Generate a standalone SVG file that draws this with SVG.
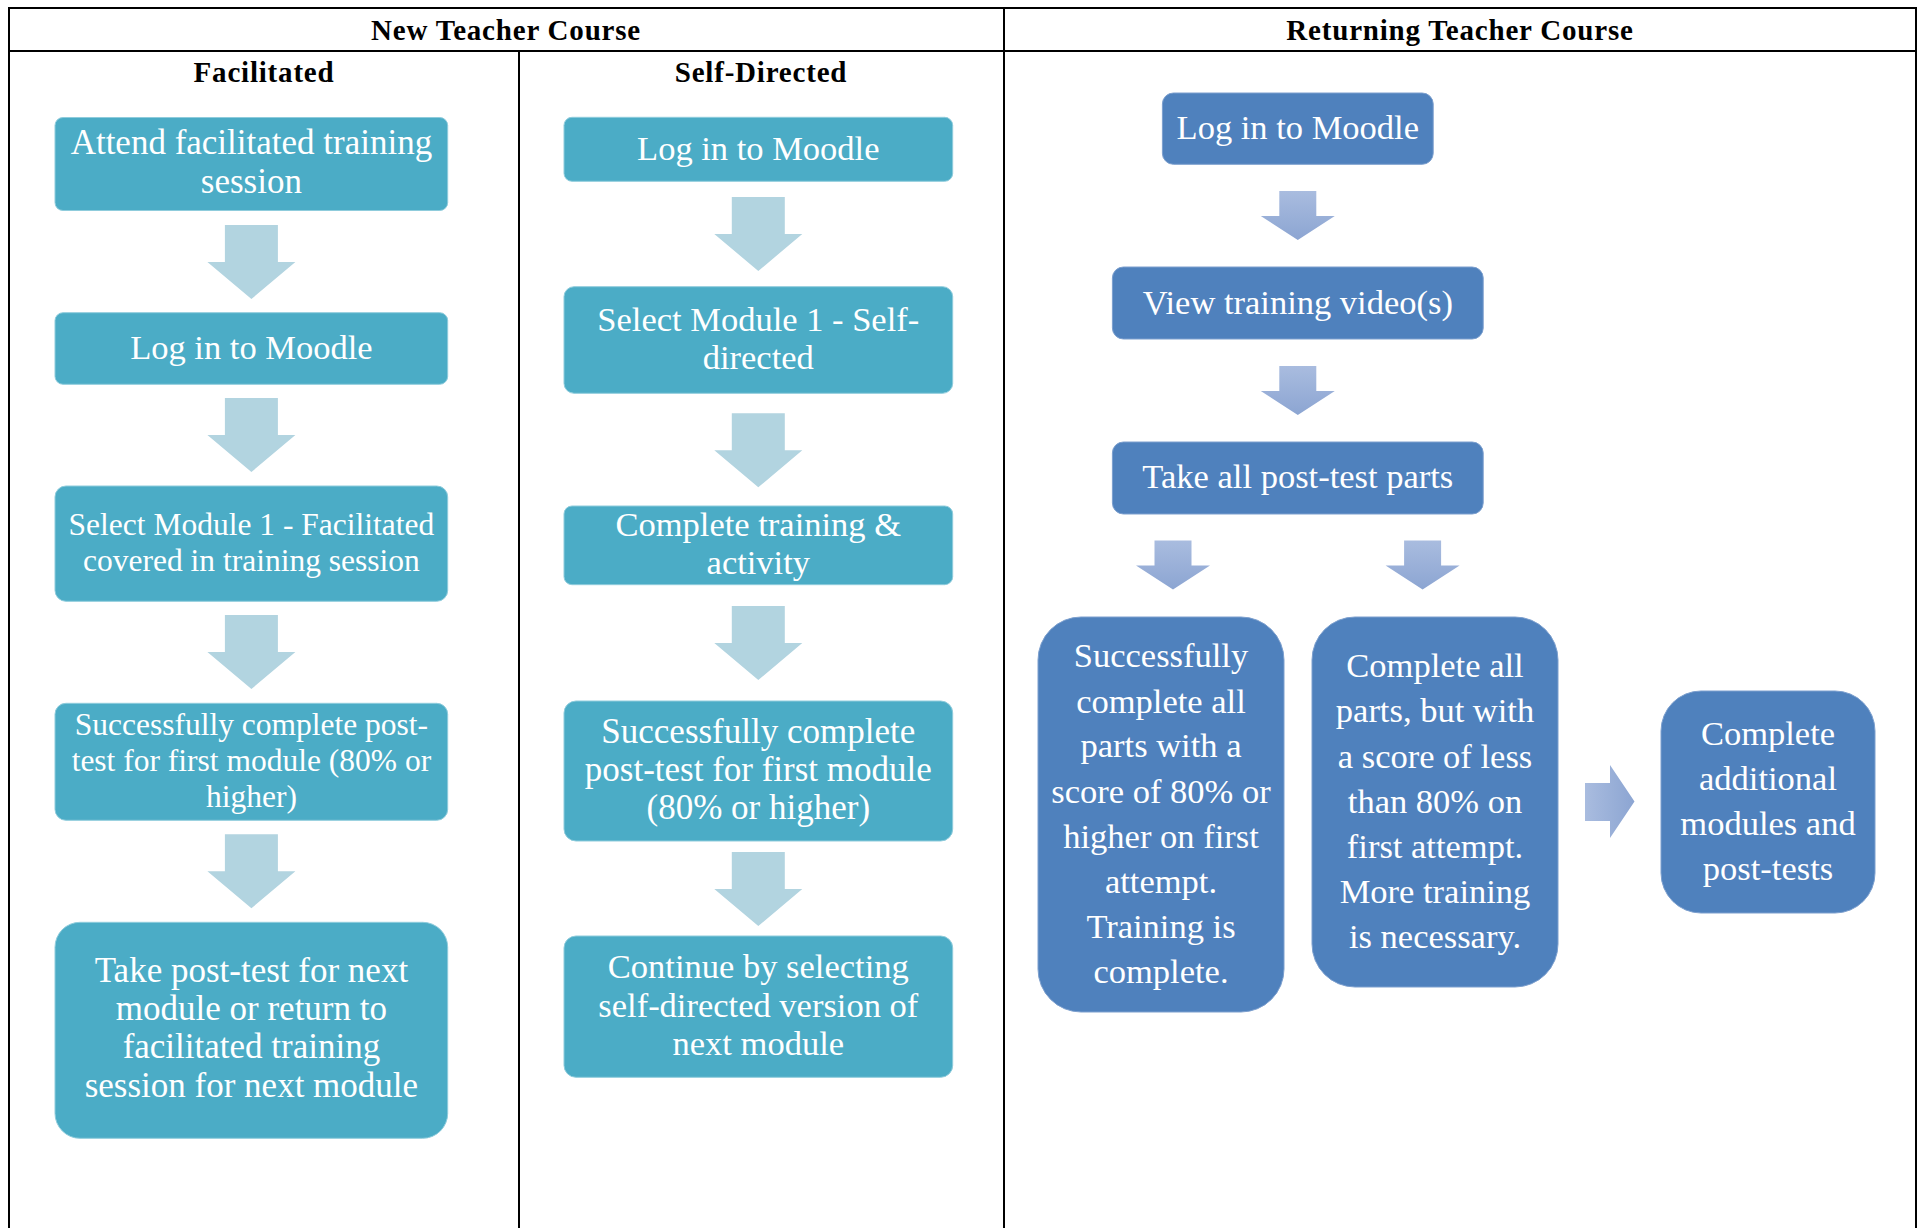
<svg xmlns="http://www.w3.org/2000/svg" xmlns:xlink="http://www.w3.org/1999/xlink" width="1923" height="1228" viewBox="0 0 1923 1228">
  <style>
    .grid { stroke: #000; stroke-width: 2; fill: none; }
    .hdr { font-family: "Liberation Serif", "Times New Roman", serif; font-weight: bold; font-size: 29px; letter-spacing: 0.8px; fill: #000; text-anchor: middle; }
    .teal { fill: #4BACC6; stroke: #8FCCDC; stroke-width: 1; }
    .blue { fill: #4F81BD; stroke: #7C9FCE; stroke-width: 1; }
    .lbl { font-family: "Liberation Serif", "Times New Roman", serif; fill: #fff; text-anchor: middle; font-size: 34.5px; }
    .sm { font-size: 31.5px; }
    .lg { font-size: 35px; }
    .tarrow { fill: #B2D4E0; }
  </style>
  <defs>
    <linearGradient id="gradDown" x1="0" y1="0" x2="0" y2="1">
      <stop offset="0" stop-color="#A9BCDF"/>
      <stop offset="1" stop-color="#8CA5D2"/>
    </linearGradient>
    <linearGradient id="gradRight" x1="0" y1="0" x2="1" y2="0">
      <stop offset="0" stop-color="#A9BCDF"/>
      <stop offset="1" stop-color="#8CA5D2"/>
    </linearGradient>
    <!-- block arrow pointing down, origin at top centre of the shaft -->
    <path id="downArrowLarge" d="M-26.5,0 H26.5 V37 H44 L0,74 L-44,37 H-26.5 Z"/>
    <path id="downArrowSmall" d="M-18.5,0 H18.5 V25 H37 L0,49 L-37,25 H-18.5 Z"/>
  </defs>

  <rect width="1923" height="1228" fill="#fff"/>

  <!-- table frame -->
  <g id="table">
    <line class="grid" x1="8" y1="8" x2="1917" y2="8"/>
    <line class="grid" x1="8" y1="51" x2="1917" y2="51"/>
    <line class="grid" x1="9" y1="7" x2="9" y2="1228"/>
    <line class="grid" x1="519" y1="51" x2="519" y2="1228"/>
    <line class="grid" x1="1004" y1="7" x2="1004" y2="1228"/>
    <line class="grid" x1="1916" y1="7" x2="1916" y2="1228"/>
    <text class="hdr" x="506" y="39.5">New Teacher Course</text>
    <text class="hdr" x="1460" y="39.5">Returning Teacher Course</text>
    <text class="hdr" x="264" y="82">Facilitated</text>
    <text class="hdr" x="761" y="82">Self-Directed</text>
  </g>

  <!-- connectors -->
  <g id="connectors">
    <g class="tarrow">
      <use xlink:href="#downArrowLarge" x="251.4" y="225"/>
      <use xlink:href="#downArrowLarge" x="251.4" y="398"/>
      <use xlink:href="#downArrowLarge" x="251.4" y="615"/>
      <use xlink:href="#downArrowLarge" x="251.4" y="834.3"/>
      <use xlink:href="#downArrowLarge" x="758.3" y="197"/>
      <use xlink:href="#downArrowLarge" x="758.3" y="413.3"/>
      <use xlink:href="#downArrowLarge" x="758.3" y="606"/>
      <use xlink:href="#downArrowLarge" x="758.3" y="852"/>
    </g>
    <g fill="url(#gradDown)">
      <use xlink:href="#downArrowSmall" x="1297.8" y="191"/>
      <use xlink:href="#downArrowSmall" x="1297.8" y="366"/>
      <use xlink:href="#downArrowSmall" x="1173" y="540.5"/>
      <use xlink:href="#downArrowSmall" x="1422.6" y="540.5"/>
    </g>
    <path fill="url(#gradRight)" d="M1585,783 H1610 V765 L1634.5,801.5 L1610,838 V821 H1585 Z"/>
  </g>

  <!-- Facilitated column -->
  <g id="fac-attend">
    <rect class="teal" x="55" y="117.5" width="392.7" height="93" rx="8"/>
    <text class="lbl lg" x="251.4" y="154">Attend facilitated training</text>
    <text class="lbl lg" x="251.4" y="193.3">session</text>
  </g>
  <g id="fac-login">
    <rect class="teal" x="55" y="312.7" width="392.7" height="71.6" rx="8"/>
    <text class="lbl" x="251.4" y="359.3">Log in to Moodle</text>
  </g>
  <g id="fac-select">
    <rect class="teal" x="55" y="486" width="392.7" height="115.3" rx="11"/>
    <text class="lbl sm" x="251.4" y="535">Select Module 1 - Facilitated</text>
    <text class="lbl sm" x="251.4" y="570.7">covered in training session</text>
  </g>
  <g id="fac-posttest">
    <rect class="teal" x="55" y="703.3" width="392.7" height="117" rx="11"/>
    <text class="lbl sm" x="251.4" y="735">Successfully complete post-</text>
    <text class="lbl sm" x="251.4" y="770.7">test for first module (80% or</text>
    <text class="lbl sm" x="251.4" y="806.7">higher)</text>
  </g>
  <g id="fac-next">
    <rect class="teal" x="55" y="922.3" width="392.7" height="216" rx="25"/>
    <text class="lbl lg" x="251.4" y="981.7">Take post-test for next</text>
    <text class="lbl lg" x="251.4" y="1020">module or return to</text>
    <text class="lbl lg" x="251.4" y="1058.3">facilitated training</text>
    <text class="lbl lg" x="251.4" y="1097.3">session for next module</text>
  </g>

  <!-- Self-Directed column -->
  <g id="self-login">
    <rect class="teal" x="564" y="117.3" width="388.7" height="64" rx="8"/>
    <text class="lbl" x="758.3" y="160">Log in to Moodle</text>
  </g>
  <g id="self-select">
    <rect class="teal" x="564" y="286.7" width="388.7" height="106.6" rx="10"/>
    <text class="lbl" x="758.3" y="330.7">Select Module 1 - Self-</text>
    <text class="lbl" x="758.3" y="368.7">directed</text>
  </g>
  <g id="self-training">
    <rect class="teal" x="564" y="506" width="388.7" height="78.7" rx="8"/>
    <text class="lbl" x="758.3" y="536">Complete training &amp;</text>
    <text class="lbl" x="758.3" y="574">activity</text>
  </g>
  <g id="self-posttest">
    <rect class="teal" x="564" y="701" width="388.7" height="140" rx="12"/>
    <text class="lbl lg" x="758.3" y="743.3">Successfully complete</text>
    <text class="lbl lg" x="758.3" y="781">post-test for first module</text>
    <text class="lbl lg" x="758.3" y="819.3">(80% or higher)</text>
  </g>
  <g id="self-continue">
    <rect class="teal" x="564" y="936" width="388.7" height="141.3" rx="12"/>
    <text class="lbl" x="758.3" y="978.3">Continue by selecting</text>
    <text class="lbl" x="758.3" y="1016.7">self-directed version of</text>
    <text class="lbl" x="758.3" y="1055">next module</text>
  </g>

  <!-- Returning Teacher Course -->
  <g id="ret-login">
    <rect class="blue" x="1162.4" y="93" width="270.8" height="71.3" rx="11"/>
    <text class="lbl" x="1297.8" y="139.3">Log in to Moodle</text>
  </g>
  <g id="ret-video">
    <rect class="blue" x="1112.4" y="267" width="370.8" height="72" rx="11"/>
    <text class="lbl" x="1297.8" y="314.3">View training video(s)</text>
  </g>
  <g id="ret-posttest">
    <rect class="blue" x="1112.4" y="442" width="370.8" height="72" rx="11"/>
    <text class="lbl" x="1297.8" y="487.5">Take all post-test parts</text>
  </g>
  <g id="ret-pass">
    <rect class="blue" x="1038" y="617" width="246" height="395" rx="43"/>
    <text class="lbl" x="1161" y="666.7">Successfully</text>
    <text class="lbl" x="1161" y="712.7">complete all</text>
    <text class="lbl" x="1161" y="757">parts with a</text>
    <text class="lbl" x="1161" y="803">score of 80% or</text>
    <text class="lbl" x="1161" y="848">higher on first</text>
    <text class="lbl" x="1161" y="893">attempt.</text>
    <text class="lbl" x="1161" y="938">Training is</text>
    <text class="lbl" x="1161" y="983">complete.</text>
  </g>
  <g id="ret-retrain">
    <rect class="blue" x="1312" y="617" width="246" height="370" rx="43"/>
    <text class="lbl" x="1435" y="676.7">Complete all</text>
    <text class="lbl" x="1435" y="721.7">parts, but with</text>
    <text class="lbl" x="1435" y="768">a score of less</text>
    <text class="lbl" x="1435" y="813">than 80% on</text>
    <text class="lbl" x="1435" y="858">first attempt.</text>
    <text class="lbl" x="1435" y="903">More training</text>
    <text class="lbl" x="1435" y="948">is necessary.</text>
  </g>
  <g id="ret-additional">
    <rect class="blue" x="1661" y="691" width="214" height="222" rx="40"/>
    <text class="lbl" x="1768" y="745">Complete</text>
    <text class="lbl" x="1768" y="790">additional</text>
    <text class="lbl" x="1768" y="835">modules and</text>
    <text class="lbl" x="1768" y="880">post-tests</text>
  </g>
</svg>
